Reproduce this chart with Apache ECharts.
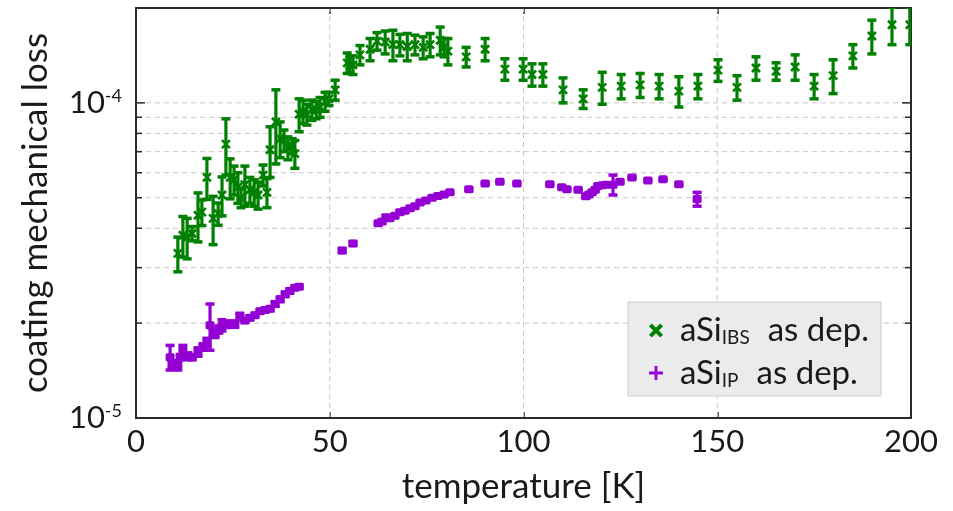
<!DOCTYPE html>
<html><head><meta charset="utf-8">
<script src="https://cdn.jsdelivr.net/npm/echarts@6/dist/echarts.min.js"></script>
<style>html,body{margin:0;padding:0;background:#fff}#c{width:953px;height:511px}</style>
</head><body><div id="c"></div>
<script>
// ---- data (loss values in units of 1e-5, converted below) ----
const ibsT = [10.8,12.1,13.2,14.5,16.0,17.0,18.3,19.9,21.2,22.2,23.2,24.3,25.3,26.3,27.1,28.1,29.4,30.5,31.5,32.8,33.8,34.6,36.1,37.2,38.2,39.2,40.3,41.0,42.1,43.1,44.1,45.4,46.5,47.5,48.8,49.8,51.4,54.5,55.2,56.0,57.8,60.4,62.2,64.3,66.3,68.1,70.0,72.0,74.1,75.9,78.5,79.5,80.5,85.2,90.1,95.2,99.9,102.2,105.0,110.2,115.4,120.3,125.2,130.1,135.0,140.1,145.0,150.2,155.1,160.0,165.2,170.1,175.0,179.9,185.0,189.9,195.1,199.7];
const ibsLoss = [3.33,3.8,3.75,3.85,4.4,4.5,5.8,4.3,4.45,5.1,7.4,5.8,5.7,5.4,5.0,5.5,5.3,5.2,5.1,5.9,5.2,7.1,8.7,7.7,7.6,7.2,7.3,6.9,9.2,9.4,9.2,9.5,9.5,9.7,10.1,10.3,11.0,13.4,13.2,13.2,14.2,14.8,15.7,15.6,15.3,15.3,15.1,15.3,15.0,15.3,15.8,15.0,14.6,14.0,14.8,12.8,12.8,12.3,12.3,11.0,10.3,11.2,11.3,11.4,11.3,10.9,11.3,12.7,11.2,12.9,12.6,13.0,11.3,12.2,14.1,16.3,17.7,17.7];
const ibsErr = [0.42,0.56,0.55,0.2,0.78,0.42,0.86,0.75,0.36,0.72,1.5,0.84,0.6,0.6,0.35,0.8,0.5,0.5,0.5,0.45,0.55,1.3,2.3,1.0,0.6,0.6,0.4,0.7,1.1,0.8,0.7,0.7,0.6,0.7,0.7,0.5,0.8,1.0,0.8,0.9,1.0,1.2,1.0,1.3,1.7,1.2,1.5,1.1,1.2,1.3,1.6,1.0,1.4,1.0,1.2,1.0,1.0,1.0,1.0,1.0,0.7,1.3,1.0,1.0,1.0,1.2,1.0,1.0,1.0,1.1,0.8,1.2,1.0,1.5,1.2,2.0,2.4,2.4];

const ipT = [8.8,9.3,10.8,11.4,12.1,13.4,14.5,16.0,17.3,18.3,19.1,20.4,21.4,22.2,23.5,24.5,25.5,26.8,28.1,29.4,30.7,32.0,33.3,34.6,35.9,37.2,38.5,39.7,41.0,42.1,53.2,56.0,62.5,63.5,64.5,65.5,66.8,68.1,69.4,70.7,72.0,73.3,74.8,76.4,77.9,79.5,81.0,85.9,90.1,93.9,98.3,106.8,109.9,111.2,114.1,116.1,116.9,117.7,118.5,119.2,120.3,121.3,123.1,124.9,128.0,132.1,136.0,140.1,144.8];
const ipLoss = [1.56,1.48,1.47,1.56,1.64,1.57,1.56,1.62,1.68,1.74,1.97,1.85,1.91,1.97,1.97,2.0,1.98,2.1,2.04,2.08,2.12,2.18,2.2,2.22,2.3,2.38,2.47,2.53,2.59,2.61,3.40,3.58,4.15,4.2,4.33,4.3,4.38,4.5,4.55,4.63,4.7,4.83,4.9,5.0,5.06,5.12,5.2,5.32,5.55,5.62,5.55,5.52,5.4,5.32,5.3,5.05,5.12,5.2,5.3,5.45,5.48,5.5,5.5,5.62,5.8,5.67,5.72,5.52,4.95];
const ipErr = [0.14,0.04,0.05,0.03,0.06,0.04,0.03,0.05,0.04,0.05,0.33,0.05,0.05,0.08,0.03,0.03,0.04,0.05,0.03,0.03,0.03,0.03,0.03,0.03,0.04,0.04,0.04,0.04,0.03,0.03,0.05,0.05,0.05,0.05,0.07,0.05,0.05,0.05,0.05,0.05,0.05,0.05,0.05,0.04,0.04,0.04,0.04,0.04,0.04,0.04,0.04,0.04,0.04,0.04,0.04,0.05,0.05,0.05,0.05,0.05,0.05,0.04,0.4,0.05,0.04,0.04,0.04,0.04,0.25];

const xTickValues = [0,50,100,150,200];
const xGridValues = [50,100,150];
const yGridValues = [2e-5,3e-5,4e-5,5e-5,6e-5,7e-5,8e-5,9e-5,1e-4];
const yLabelValues = [1e-5,1e-4];
const unit = 1e-5;

const GREEN = '#008000', PURPLE = '#9400d3';
const FONT = 'Lato';

const ibsData = ibsT.map((t,i)=>[t, ibsLoss[i]*unit, ibsErr[i]*unit]);
const ipData = ipT.map((t,i)=>[t, ipLoss[i]*unit, ipErr[i]*unit]);

function errRender(kind, color){
  return function(params, api){
    const t = api.value(0), v = api.value(1), e = api.value(2);
    const c = api.coord([t, v]);
    const top = api.coord([t, v + e]);
    const bot = api.coord([t, Math.max(v - e, 1e-7)]);
    const cw = 4.5;
    const ch = [
      {type:'line', shape:{x1:c[0], y1:top[1], x2:c[0], y2:bot[1]}, style:{stroke:color, lineWidth:3.2}},
      {type:'line', shape:{x1:c[0]-cw, y1:top[1], x2:c[0]+cw, y2:top[1]}, style:{stroke:color, lineWidth:3.5}},
      {type:'line', shape:{x1:c[0]-cw, y1:bot[1], x2:c[0]+cw, y2:bot[1]}, style:{stroke:color, lineWidth:3.5}}
    ];
    if (kind === 'x') {
      const s = 4;
      ch.push({type:'line', shape:{x1:c[0]-s, y1:c[1]-s, x2:c[0]+s, y2:c[1]+s}, style:{stroke:color, lineWidth:2.6}});
      ch.push({type:'line', shape:{x1:c[0]-s, y1:c[1]+s, x2:c[0]+s, y2:c[1]-s}, style:{stroke:color, lineWidth:2.6}});
    } else {
      ch.push({type:'rect', shape:{x:c[0]-4.5, y:c[1]-4, width:9, height:8, r:1.5}, style:{fill:color}});
    }
    return {type:'group', children: ch};
  };
}

const chart = echarts.init(document.getElementById('c'), null, {renderer:'canvas'});
chart.setOption({
  animation: false,
  backgroundColor: '#fff',
  textStyle: {fontFamily: FONT},
  grid: {left:136, right:42, top:8, bottom:93, show:true, borderColor:'#2a2a2a', borderWidth:2, backgroundColor:'transparent', containLabel:false, outerBoundsMode:'none'},
  legend: {
    orient:'vertical', left:628, top:302,
    backgroundColor:'#ebebeb', borderColor:'#cdcdcd', borderWidth:1,
    padding:[12, 12, 6, 21], itemGap:9, itemWidth:14, itemHeight:14,
    selectedMode:false,
    data:[
      {name:'ibs', icon:'path://M0,2 L2,0 L5,3 L8,0 L10,2 L7,5 L10,8 L8,10 L5,7 L2,10 L0,8 L3,5 Z', itemStyle:{color:GREEN}},
      {name:'ip', icon:'path://M4,0 H6 V4 H10 V6 H6 V10 H4 V6 H0 V4 H4 Z', itemStyle:{color:PURPLE}}
    ],
    formatter: n => n === 'ibs' ? '{m|aSi}{s|IBS}{g|as dep.}' : '{m|aSi}{s|IP}{g|as dep.}',
    textStyle:{
      fontFamily:FONT, color:'#1a1a1a', fontSize:33,
      rich:{
        m:{fontFamily:FONT, fontSize:33, color:'#1a1a1a', padding:[0,0,0,12], lineHeight:34},
        s:{fontFamily:FONT, fontSize:19, color:'#1a1a1a', verticalAlign:'bottom', lineHeight:34},
        g:{fontFamily:FONT, fontSize:33, color:'#1a1a1a', padding:[0,0,0,18], lineHeight:34}
      }
    }
  },
  xAxis: [{
    type:'value', min:0, max:200, interval:50, position:'bottom',
    name:'temperature [K]', nameLocation:'middle', nameGap:51,
    nameTextStyle:{fontFamily:FONT, fontSize:35, color:'#1a1a1a'},
    axisLine:{show:false},
    axisTick:{show:true, inside:true, length:6, lineStyle:{color:'#2a2a2a', width:1.5}},
    axisLabel:{fontFamily:FONT, fontSize:31, color:'#1a1a1a', margin:8,
      formatter: v => xTickValues.includes(v) ? String(v) : ''},
    splitLine:{show:false}
  },{
    type:'value', min:0, max:200, interval:50, position:'top',
    axisLine:{show:false},
    axisTick:{show:true, inside:true, length:6, lineStyle:{color:'#2a2a2a', width:1.5}},
    axisLabel:{show:false}, splitLine:{show:false}
  }],
  yAxis: [{
    type:'log', logBase:10, min:1e-5, max:2e-4,
    name:'coating mechanical loss', nameLocation:'middle', nameGap:83,
    nameTextStyle:{fontFamily:FONT, fontSize:35, color:'#1a1a1a'},
    axisLine:{show:false}, axisTick:{show:false}, splitLine:{show:false},
    axisLabel:{
      margin:14, showMaxLabel:false,
      formatter: v => {
        const hit = yLabelValues.find(x => Math.abs(Math.log10(v) - Math.log10(x)) < 1e-6);
        if (!hit) return '';
        return '{b|10}{s|' + Math.round(Math.log10(hit)) + '}';
      },
      rich:{
        b:{fontFamily:FONT, fontSize:31, color:'#1a1a1a'},
        s:{fontFamily:FONT, fontSize:18, color:'#1a1a1a', verticalAlign:'top'}
      }
    }
  }],
  series: [
    {
      type:'custom', name:'hgrid', silent:true, z:1, coordinateSystem:'cartesian2d',
      data: yGridValues.map(v => [0, v]),
      renderItem: (p, api) => {
        const v = api.value(1);
        const a = api.coord([0, v]), b = api.coord([200, v]);
        const major = Math.abs(v - 1e-4) < 1e-9;
        const len = major ? 9 : 6;
        return {type:'group', children:[
          {type:'line', shape:{x1:a[0]+1, y1:a[1], x2:b[0]-1, y2:b[1]}, style:{stroke:'#c8c8c8', lineWidth:1, lineDash:[5,4]}},
          {type:'line', shape:{x1:a[0], y1:a[1], x2:a[0]+len, y2:a[1]}, style:{stroke:'#2a2a2a', lineWidth:1.5}},
          {type:'line', shape:{x1:b[0]-len, y1:b[1], x2:b[0], y2:b[1]}, style:{stroke:'#2a2a2a', lineWidth:1.5}}
        ]};
      }
    },
    {
      type:'custom', name:'vgrid', silent:true, z:1, coordinateSystem:'cartesian2d',
      data: xGridValues.map(t => [t, 1e-5]),
      renderItem: (p, api) => {
        const t = api.value(0);
        const a = api.coord([t, 1e-5]), b = api.coord([t, 2e-4]);
        return {type:'line', shape:{x1:a[0], y1:a[1]-1, x2:b[0], y2:b[1]+1}, style:{stroke:'#c8c8c8', lineWidth:1, lineDash:[5,4]}};
      }
    },
    {
      type:'custom', name:'ibs', z:3, clip:true, coordinateSystem:'cartesian2d',
      itemStyle:{color:GREEN},
      data: ibsData, renderItem: errRender('x', GREEN)
    },
    {
      type:'custom', name:'ip', z:3, clip:true, coordinateSystem:'cartesian2d',
      itemStyle:{color:PURPLE},
      data: ipData, renderItem: errRender('s', PURPLE)
    }
  ]
});
</script>
</body></html>
